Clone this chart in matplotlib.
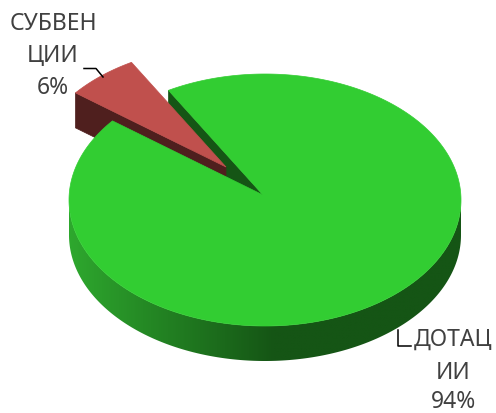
import numpy as np
import matplotlib
matplotlib.use("Agg")
import matplotlib.pyplot as plt
from matplotlib.patches import Polygon

categories = ["СУБВЕН\nЦИИ", "ДОТАЦ\nИИ"]
shares = [6, 94]
percent_labels = ["6%", "94%"]

W, H = 496, 413
fig = plt.figure(figsize=(W / 100, H / 100), dpi=100, facecolor="white")
ax = fig.add_axes([0, 0, 1, 1])

# pie projection (pixels)
CX, CY, RX, RY = 265, 200, 196, 126
APEX = np.array([263, 195])
DEPTH = 35
EXPLODE = np.array([-37, -28])
START = 119.5
sweep = shares[0] / sum(shares) * 360
A1, A2 = START, START + sweep


def rim(a):
    a = np.radians(a)
    return np.column_stack([CX + RX * np.cos(a), CY - RY * np.sin(a)])


GREEN = "#32CD32"
GREEN_DARK = np.array([0x15, 0x55, 0x15]) / 255
GREEN_MID = np.array([0x2E, 0xA8, 0x2E]) / 255
RED = "#C0504D"
RED_DARK = "#4F1F1E"

# green outer wall, shaded along x
xs = np.linspace(CX - RX, CX + RX, 400)
t = np.clip((xs - (CX - RX)) / 205, 0, 1)[None, :, None]
grad = GREEN_MID[None, None, :] * (1 - t) + GREEN_DARK[None, None, :] * t
pts = rim(np.linspace(180, 360, 361))
wall = Polygon(np.vstack([pts, pts[::-1] + [0, DEPTH]]), transform=ax.transData, fc="none", ec="none")
ax.add_patch(wall)
im = ax.imshow(grad, extent=[CX - RX, CX + RX, CY + RY + DEPTH, CY - 5], aspect="auto",
               interpolation="bilinear", zorder=1)
im.set_clip_path(wall)

ax.set_xlim(0, W)
ax.set_ylim(H, 0)
ax.axis("off")

# green inner wall at the cut
e1 = rim(np.array([A1]))[0]
ax.add_patch(Polygon([e1, e1 + [0, DEPTH], APEX + [0, DEPTH], APEX], fc=GREEN_DARK, ec=GREEN_DARK, lw=0.5, zorder=2))

# red wall
e2r = rim(np.array([A2]))[0] + EXPLODE
tip = APEX + EXPLODE
ax.add_patch(Polygon([e2r, e2r + [0, DEPTH], tip + [0, DEPTH], tip], fc=RED_DARK, ec=RED_DARK, lw=0.5, zorder=3))

# green top
garc = rim(np.linspace(A2, A1 + 360, 500))
ax.add_patch(Polygon(np.vstack([APEX, garc]), fc=GREEN, ec=GREEN, lw=0.5, zorder=4))

# red top
rarc = rim(np.linspace(A1, A2, 40)) + EXPLODE
ax.add_patch(Polygon(np.vstack([tip, rarc]), fc=RED, ec=RED, lw=0.5, zorder=5))

# leader lines
ax.plot([84, 96, 103], [68.5, 68.5, 77], color="black", lw=1.1, zorder=6, solid_joinstyle="round")
ax.plot([398, 398, 411], [330, 346, 346], color="black", lw=1.1, zorder=6)

font = dict(family="Noto Sans", fontsize=16.5, color="#404040", ha="center", va="center", zorder=7)
sub = categories[0].split("\n")
dot = categories[1].split("\n")
ax.text(53, 24, sub[0], **font)
ax.text(53, 56, sub[1], **font)
ax.text(53, 88, percent_labels[0], **font)
ax.text(453, 340, dot[0], **font)
ax.text(453, 373, dot[1], **font)
ax.text(453, 402, percent_labels[1], **font)

fig.savefig("out.png", dpi=100, facecolor="white")
